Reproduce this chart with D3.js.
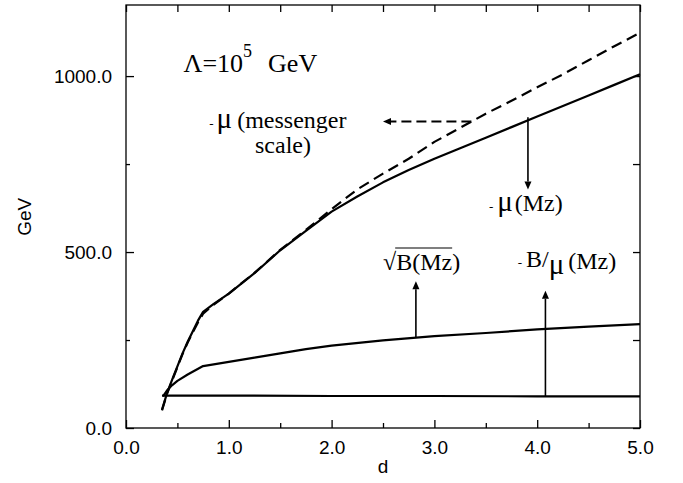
<!DOCTYPE html>
<html>
<head>
<meta charset="utf-8">
<script src="https://cdn.jsdelivr.net/npm/d3@7"></script>
<style>
  html, body { margin: 0; padding: 0; background: #fff; }
  svg { display: block; }
</style>
</head>
<body>
<svg id="chart" width="683" height="483"></svg>
<script>
// Higgsino mass parameter and B-term versus d, for Lambda = 10^5 GeV

// mu at the messenger scale (dashed)
const muMessD = [0.35,0.40,0.45,0.50,0.55,0.60,0.65,0.70,0.75,0.85,1.0,1.25,1.5,1.75,2.0,2.25,2.5,2.75,3.0,3.25,3.5,3.75,4.0,4.25,4.5,4.75,5.0];
const muMess  = [50,98,136,173,210,243,272,300,325,350,382,441,506,563,622,678,723,765,813,853,893,930,968,1005,1045,1085,1123];

// mu at Mz (solid)
const muMzD = [0.35,0.40,0.45,0.50,0.55,0.60,0.65,0.70,0.75,0.85,1.0,1.25,1.5,1.75,2.0,2.25,2.5,2.75,3.0,3.25,3.5,3.75,4.0,4.25,4.5,4.75,5.0];
const muMz  = [52,100,138,175,212,245,275,305,330,352,382,440,505,560,615,658,698,733,765,795,825,855,885,915,945,975,1005];

// sqrt(B) at Mz
const sqrtBD = [0.36,0.40,0.45,0.50,0.60,0.75,1.0,1.25,1.5,1.75,2.0,2.5,3.0,3.5,4.0,4.5,5.0];
const sqrtB  = [90,107,122,134,152,176,188,200,212,224,234,249,261,270,280,288,295];

// B/mu at Mz
const bOverMuD = [0.35,1.0,2.0,3.0,4.0,5.0];
const bOverMu  = [92,92,91,91,90,90];

// axis ticks
const xMajor = [0,1,2,3,4,5];
const xMinor = [0.5,1.5,2.5,3.5,4.5];
const yMajor = [0,500,1000];
const yMinor = [250,750];
const xTickLabels = ["0.0","1.0","2.0","3.0","4.0","5.0"];
const yTickLabels = ["0.0","500.0","1000.0"];

// annotation arrows: [x1, y1, x2(tip), y2(tip)] in data units
const arrowMess = [3.36, 871, 2.50, 871];
const arrowMuMz = [3.91, 883, 3.91, 678];
const arrowSqrtB = [2.82, 258, 2.82, 417];
const arrowBMu  = [4.08, 90, 4.08, 390];

const W = 683, H = 483;
const margin = {left: 126, right: 43, top: 5, bottom: 55};
const iw = W - margin.left - margin.right;
const ih = H - margin.top - margin.bottom;

const svg = d3.select("#chart");
const g = svg.append("g").attr("transform", `translate(${margin.left},${margin.top})`);

const x = d3.scaleLinear().domain([0, 5]).range([0, iw]);
const y = d3.scaleLinear().domain([0, 1202]).range([ih, 0]);

const axisFont = "'Liberation Sans', Arial, Helvetica, sans-serif";
const serif = "'Liberation Serif', 'Times New Roman', Times, serif";

function styleAxis(sel) {
  sel.attr("font-size", 19).attr("font-family", axisFont);
  sel.select(".domain").remove();
  sel.selectAll("line").attr("stroke", "#000").attr("stroke-width", 1.3);
  sel.selectAll("text").attr("fill", "#000").attr("font-family", axisFont).attr("font-size", 19);
}

// bottom axis: labelled majors, inward ticks
g.append("g").attr("transform", `translate(0,${ih})`)
  .call(d3.axisBottom(x).tickValues(xMajor).tickSize(-8).tickPadding(13)
        .tickFormat((d, i) => xTickLabels[i]))
  .call(styleAxis);
g.append("g").attr("transform", `translate(0,${ih})`)
  .call(d3.axisBottom(x).tickValues(xMinor).tickSize(-5).tickFormat(""))
  .call(styleAxis);

// top axis ticks
g.append("g")
  .call(d3.axisTop(x).tickValues(xMajor.concat(xMinor)).tickSize(-7).tickFormat(""))
  .call(styleAxis);

// left axis
g.append("g")
  .call(d3.axisLeft(y).tickValues(yMajor).tickSize(-8).tickPadding(14)
        .tickFormat((d, i) => yTickLabels[i]))
  .call(styleAxis);
g.append("g")
  .call(d3.axisLeft(y).tickValues(yMinor).tickSize(-4).tickFormat(""))
  .call(styleAxis);

// right axis ticks
g.append("g").attr("transform", `translate(${iw},0)`)
  .call(d3.axisRight(y).tickValues(yMajor.concat(yMinor)).tickSize(-7).tickFormat(""))
  .call(styleAxis);

// frame
g.append("rect").attr("x", 0).attr("y", 0).attr("width", iw).attr("height", ih)
  .attr("fill", "none").attr("stroke", "#000").attr("stroke-width", 1.3);

// axis titles
svg.append("text").attr("x", margin.left + x(2.5)).attr("y", 473)
  .attr("text-anchor", "middle").attr("font-family", axisFont).attr("font-size", 19)
  .text("d");
svg.append("text").attr("transform", `translate(31,${margin.top + y(600)}) rotate(-90)`)
  .attr("text-anchor", "middle").attr("font-family", axisFont).attr("font-size", 19)
  .text("GeV");

// curves
const line = d3.line().x(d => x(d[0])).y(d => y(d[1]));
function drawCurve(ds, vs, dash) {
  g.append("path").datum(ds.map((d, i) => [d, vs[i]]))
    .attr("d", line).attr("fill", "none").attr("stroke", "#000")
    .attr("stroke-width", 2.2).attr("stroke-linejoin", "round")
    .attr("stroke-dasharray", dash || null);
}
drawCurve(bOverMuD, bOverMu);
drawCurve(sqrtBD, sqrtB);
drawCurve(muMzD, muMz);
drawCurve(muMessD, muMess, "11,6");

// arrows
function drawArrow(a, dash) {
  const x1 = x(a[0]), y1 = y(a[1]), x2 = x(a[2]), y2 = y(a[3]);
  const ang = Math.atan2(y2 - y1, x2 - x1);
  const len = 8, half = 3.5;
  const bx = x2 - len * Math.cos(ang), by = y2 - len * Math.sin(ang);
  g.append("line").attr("x1", x1).attr("y1", y1).attr("x2", bx).attr("y2", by)
    .attr("stroke", "#000").attr("stroke-width", dash ? 2 : 1.6)
    .attr("stroke-dasharray", dash || null);
  const px = -Math.sin(ang), py = Math.cos(ang);
  g.append("path")
    .attr("d", `M${x2},${y2}L${bx + px * half},${by + py * half}L${bx - px * half},${by - py * half}Z`)
    .attr("fill", "#000");
}
drawArrow(arrowMess, "10,5");
drawArrow(arrowMuMz);
drawArrow(arrowSqrtB);
drawArrow(arrowBMu);

// annotations
function label(dx, vy, size) {
  return g.append("text").attr("x", x(dx)).attr("y", y(vy))
    .attr("font-family", serif).attr("font-size", size || 24).attr("fill", "#000");
}

// Lambda = 10^5 GeV
const lam = label(0.56, 1011, 26);
lam.append("tspan").text("Λ=10");
lam.append("tspan").attr("dy", -15).attr("font-size", 18).text("5");
lam.append("tspan").attr("dy", 15).attr("dx", 16).text("GeV");

// mu (messenger scale)
const mm = label(0.81, 852);
mm.append("tspan").attr("font-size", 13).text("-");
mm.append("tspan").attr("dx", 3).attr("font-size", 29).text("μ");
mm.append("tspan").attr("dx", 5).text("(messenger");
label(1.255, 781).text("scale)");

// mu (Mz)
const mz = label(3.53, 616);
mz.append("tspan").attr("font-size", 13).text("-");
mz.append("tspan").attr("dx", 4).attr("font-size", 29).text("μ");
mz.append("tspan").attr("dx", 2).text("(Mz)");

// sqrt(B(Mz)) with overbar
const sq = label(2.50, 449);
sq.append("tspan").text("√");
sq.append("tspan").text("B(Mz)");
const bb = sq.node().getBBox();
const rad = sq.node().getSubStringLength(0, 1);
g.append("line")
  .attr("x1", bb.x + rad - 1).attr("x2", bb.x + bb.width - 8)
  .attr("y1", y(449) - 22).attr("y2", y(449) - 22)
  .attr("stroke", "#000").attr("stroke-width", 1.2);

// B/mu (Mz)
const bm = label(3.81, 457);
bm.append("tspan").attr("font-size", 13).text("-");
bm.append("tspan").attr("dx", 4).text("B/");
bm.append("tspan").attr("dy", 7).attr("font-size", 29).text("μ");
bm.append("tspan").attr("dy", -5).attr("dx", 4).text("(Mz)");
</script>
</body>
</html>
